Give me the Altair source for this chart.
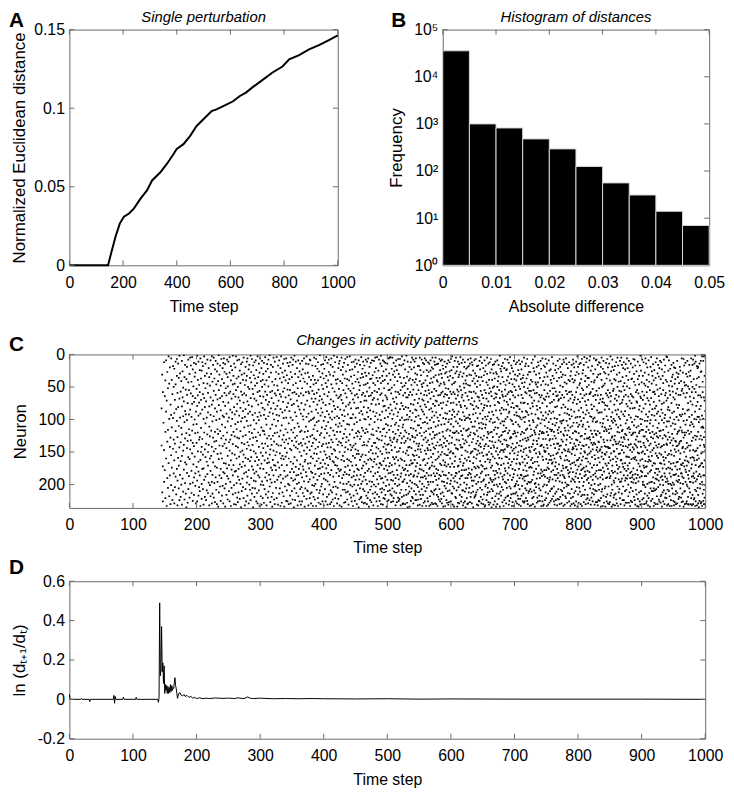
import altair as alt
import pandas as pd

FONT = "Liberation Sans"
FRAME = "#6a6a6a"
LFS = 16   # tick labels
XTFS = 16  # x titles
YTFS = 17  # y titles

# ---------------- Panel A: single perturbation ----------------
a_time = [0, 144, 154, 172, 188, 203, 222, 240, 265, 289, 308, 339, 363, 388, 400, 425, 450, 474,
          505, 530, 548, 585, 610, 634, 659, 683, 720, 757, 794, 819, 856, 893, 930, 967, 1000]
a_dist = [0, 0, 0.0067, 0.0183, 0.0267, 0.0309, 0.033, 0.0361, 0.0424, 0.0477, 0.054, 0.0592,
          0.0645, 0.0708, 0.074, 0.0771, 0.0824, 0.0887, 0.0939, 0.0981, 0.0992, 0.1023, 0.1044,
          0.1076, 0.1101, 0.1134, 0.118, 0.1227, 0.1265, 0.1311, 0.1338, 0.1374, 0.1401, 0.1433, 0.1464]

# ---------------- Panel B: histogram of distances ----------------
b_lo = [0, 0.005, 0.01, 0.015, 0.02, 0.025, 0.03, 0.035, 0.04, 0.045]
b_hi = [0.005, 0.01, 0.015, 0.02, 0.025, 0.03, 0.035, 0.04, 0.045, 0.05]
b_freq = [35500, 1000, 820, 480, 295, 125, 56, 31, 14, 7]

# ---------------- Panel C: raster of changed neurons ----------------
raster_start = 145
raster = (
    "83 140,31 212,172 58 226,105,196 12 147,64 178,119 221 40,9 160 88,233 71,134 27 190,52 205 116,167 3,218 99 45,142 186 20,77 230 128,6 155 93 201,112 39 174,224 61,145 18 98 209,183 50 131,"
    "22 163 90 229,137 70 204,11 118 188 46,215 84 150,33 176 102 7,127 59 232 194,159 14 81,206 110 36 171,68 143 224 2,97 185 29,219 57 135 164,41 200 113,80 10 156 231 123,191 66 26,148 211 95 51,1 177 139 72,223 104 35,87 166 198 16 129,54 214 92,169 38 121 235,"
    "19 101 182 62 144,228 75 133,43 158 8 207,115 187 55 92,161 30 220 124,85 5 199 146,132 60 17,179 96 42 213,4 152 117 76,197 23 136 64 225,108 169 49,73 189 13 216 141,157 34 100,202 121 67 183 28,15 229 88,136 53 173 107,226 2 79 194,63 149 120 39,180 11 217 94 165,47 131 204 74,"
    "127 24 186 58 210,91 162 6 233,150 37 113 70,199 142 25 222,12 176 85 130,61 207 18 154,175 99 44 231,3 120 193 67,146 33 219 81,106 188 14 158 52,224 72 137,29 165 97 209,184 8 123 45,59 213 150 89 171,139 21 197,80 232 111 35,160 48 201 126,9 93 179 66 218,117 156 30,196 77 142 3 229,"
    "42 185 103 214,166 16 128 71,220 56 149 95 5,134 198 37,83 172 23 227 119,10 145 62 189,208 101 46 133,26 174 88 230,153 69 14 196 115,234 41 122,78 161 212 1 55,186 31 140 99,118 203 67 17,48 152 225 86 176,190 7 129,64 217 108 38 160,141 21 94 202,13 181 73 229 125,96 44 167 6,206 137 59 183 27,"
    "112 234 79 15,168 52 199 131,30 91 144 216 63,187 8 120 175,223 49 103 156 35,74 191 11,135 60 210 97 170,4 148 28 226,196 85 131 57,40 163 110 233 18,177 68 205 124,99 24 152 89,215 138 46 186 2,61 119 170 33,230 81 14 201,154 126 45 92 180,20 213 65 107,141 179 3 231 55,87 160 37 198 115,9 220 76 128,"
    "188 50 143 104 227,34 176 66 212,157 8 94 129 193,222 71 25 169,118 199 44 150 82,15 235 103 57,173 136 31 210,62 191 12 148 98,204 87 126 39 165,5 154 221 74,138 29 183 112 60,232 96 47 171,19 124 207 84 159,181 40 63 226,145 11 102 197 33,72 217 135 188 6,110 50 161 91,23 229 78 140 178,200 53 119 16,88 164 36 208 130,"
    "147 2 224 67 109,190 43 158 27,80 121 214 7 172,53 205 93 139,235 17 177 61 128,101 149 32 194,12 68 219 115 183,164 37 90 206 48,127 195 9 152,71 226 106 24 180,158 44 213 133,3 96 170 58 229,120 186 35 77,209 14 142 101 162,56 233 89 189 28,175 124 6 64,94 218 151 41 200,21 168 112 75 231,137 50 195 10,82 156 221 117 39,"
    "201 65 30 144 176,118 13 228 93,46 163 207 85 123,189 4 137 57,70 215 151 26 99,232 108 182 40,15 129 194 62 167,160 77 22 220 141,95 211 49 8,185 125 35 166 73,1 203 89 154,146 58 227 114 192,28 174 83 16 130,219 67 139 197,42 108 178 234 56,162 19 91 213 125,75 186 5 148,134 223 47 170 100,11 60 196 121 230,171 84 38 155,"
    "205 27 110 178 63,93 150 4 221 138,48 193 79 120,17 166 231 55 102,140 71 188 30,214 9 126 94 174,61 152 37 206,185 117 21 233 84,3 140 65 197 160,109 228 43 170,156 28 89 212 131,73 191 14 57,218 124 161 98 35,7 179 52 135 234,144 86 203 25,66 115 188 40 157,225 6 131 97,32 170 209 81 151,120 13 186 54 226,199 75 44 137,"
    "18 160 106 230 63,129 201 38 87,181 55 12 217 145,97 165 229 69 27,147 5 190 116,35 210 78 133 176,223 59 101 16,168 120 194 47 8,76 235 140 181,2 113 58 206 158,192 30 89 128 224,44 173 143 11,213 95 61 186 134,125 21 199 71 163,52 232 106 145,185 9 80 218 35,138 64 176 111 197,26 150 226 85,207 119 41 169 14,91 183 60 231 136,"
    "156 31 204 75 117,10 189 140 52 226,172 95 23 213,63 130 177 37 100,218 6 148 85 195,119 165 42 234,29 77 206 137 162,181 14 58 111,96 222 153 3 187,143 45 71 209 127,210 118 28 168,57 196 91 232 15,134 35 175 103 60,221 80 147 8 192,9 167 126 214 50,180 101 39 157 229,68 141 212 88,124 17 182 56 201,233 99 160 33 136,46 115 189 73 219,"
    "152 5 97 202 129 61,39 223 171 109,199 68 18 145 184,85 131 233 44 7,164 208 104 59 153,22 118 193 77,142 40 221 176 90 12,102 160 54 228,213 26 135 187 71,1 175 124 64 209,167 94 35 150 230,121 203 83 16 184,47 141 199 112 69,226 173 29 89,74 15 138 215 162 53,191 102 37 232,128 61 183 149 22,9 207 96 168 115,154 44 226 78 193,110 33 175 137 4,"
    "219 87 159 50 121,64 195 13 231 143,182 104 40 170,27 136 215 92 58 8,157 76 200 125,97 230 31 185 161,143 16 69 209 113,6 178 131 46 227,212 88 153 100,52 164 223 19 135,188 117 72 33 204,79 146 233 166 2,124 57 196 97 27,170 12 148 221 84,39 203 108 158,215 63 130 182 45,95 4 171 229 119,160 81 38 205 139,21 222 111 67 176,134 187 53 14 98,"
    "232 65 150 179 10 106,41 119 197 85,177 24 217 136 62,110 234 70 162 5,140 190 44 93,19 129 208 156 75 31,199 55 102 185,86 13 164 228 122,150 208 37 95 181,60 143 227 7 115 173,212 80 26 135,127 184 48 199 66,4 161 223 107 38,171 92 16 211 146,53 132 196 77 231,185 108 40 163,24 215 74 123 178 3,139 56 201 98,220 165 34 83 147,98 12 189 226 60,"
    "143 203 45 116 171 23,69 233 92 156,187 11 140 217 52,32 107 180 74 200 128,159 225 63 19,97 146 8 193 137 42,209 83 170 121,14 230 61 104 186 153,176 38 126 214,118 201 82 27 148 66,235 153 43 178 9,90 120 192 55 223,48 162 16 130 206 101,185 73 221 36,126 4 157 87 199 219,62 113 175 30 227,154 195 22 140 92,207 59 11 171 117 35,81 229 135 47 188,165 99 17 210 139 71,"
    "28 182 121 64 228,193 8 155 100 46,115 217 71 33 168,57 140 199 89 11 230,221 119 179 44,6 162 82 212 134 96,176 29 234 64 150,130 51 195 108 19,86 208 160 38 224,147 13 180 99 63,37 123 227 162 76 203,196 59 141 9,70 173 214 115 32 152,232 88 44 187 124,10 136 67 200 165,161 221 104 27 56,47 183 136 212 95 5,203 77 152 21,118 226 36 169 90 143,58 4 192 129 215,"
    "181 100 41 157 233 69,25 145 199 113,219 76 8 174 131 53,93 167 225 36 187,149 14 62 119 207 168,2 191 101 230 44,132 60 212 170 18,206 88 153 33 125 190,41 231 115 71 9,164 197 26 142 80 221,114 52 176 11 208,79 222 137 98 39 160,188 13 63 126 216,146 202 86 23 171 107,33 120 234 151 66,226 69 178 14 139 193,96 159 45 210 109,6 138 183 55 224 82,172 29 116 200 151,54 209 91 167 5 128,"
    "215 132 39 77 182 4,140 193 60 110 227,22 170 217 86 147 51,180 99 5 135 206,68 226 158 31 119 194,130 13 185 92 221,47 161 73 211 128 26,199 108 143 35 168,83 232 18 122 190 57,158 66 213 105 9,24 134 178 76 227 150,202 41 95 185 131,116 7 163 220 58 89,225 149 30 110 192,61 200 125 16 171 222,144 84 35 213 101 7,188 55 232 121 160,17 136 208 75 44 183,162 97 219 3 129,79 230 50 174 112 196,"
    "108 15 150 195 63 229,217 84 126 36 178,48 192 101 164 9 136,176 59 230 117 23,133 208 81 152 44 185,2 120 170 66 216 100,228 93 34 148 198,66 179 11 129 235 53,155 100 214 27 82 143,40 186 122 62 203,211 142 19 170 96 234,87 37 194 131 58,163 225 76 12 113 184,23 144 206 101 47 168,197 62 125 219 5,127 90 167 39 221 154,54 229 114 8 188 77,186 134 20 156 210,11 70 199 103 162 43,224 148 85 29 179 128,"
    "96 172 38 215 117 6,155 61 201 137 86 224,31 124 188 47 167,204 75 18 146 232 109,141 223 94 55 183,18 158 109 211 68 137,176 41 231 121 5 195,80 146 24 170 99 216,222 113 60 189 32 150,125 8 177 85 207 46,50 199 140 69 233,189 105 13 163 216 88,71 228 131 44 179 27,161 92 203 15 120 62,6 187 148 77 226 104,210 40 128 170 56,118 9 233 153 81 191,182 135 63 24 205 97,33 221 106 167 48 144,147 73 196 12 132 226,"
    "200 55 114 186 27 160,60 233 139 85 176 14,174 101 44 218 123,25 147 196 68 9 231,113 210 83 158 37 186,228 58 130 20 171 97,88 166 212 43 137 5,153 22 119 196 76 230,35 183 64 143 104 215,209 128 11 172 53 94,124 229 79 187 16 145,5 162 111 207 71 32,193 89 140 230 56 176,72 15 216 123 183 40,160 135 42 201 97 233,14 178 63 109 219 150,223 102 31 157 191 78,121 48 185 7 140 207,62 226 93 168 24 131,187 154 10 214 75 45,"
    "139 30 170 108 222 59,8 195 83 150 36 229,180 119 57 212 143 17,98 234 22 163 74 126,218 65 185 136 43 196,46 153 107 11 202 170,166 90 233 29 129 61,206 141 52 186 99 19,27 117 172 78 224 155,133 14 198 91 62 228,191 72 155 35 115 210,53 169 231 104 146 9,227 100 40 182 67 137,12 151 209 125 26 87,173 57 117 199 160 33,107 226 149 7 194 75,61 185 24 136 213 99,214 128 93 168 46 3,36 203 152 85 120 231,152 19 74 190 111 58,"
    "88 234 173 44 121 206,195 10 139 61 96 164,42 120 219 157 29 187,221 68 103 182 5 144,131 183 26 209 77 118,19 92 234 145 54 197,172 146 63 11 228 106,57 204 121 88 35 171,229 31 180 132 73 15,110 161 49 216 191 99,4 139 78 200 165 27,187 118 226 55 143 81,66 13 155 101 219 178,143 209 34 186 62 124,209 89 130 8 171 232,29 167 71 228 114 45,178 51 197 137 19 95,101 226 12 160 79 211,235 132 59 190 40 148,45 98 177 22 206 117,"
    "163 200 83 135 33 221,20 116 190 64 150 230,185 47 229 126 97 8,114 158 18 212 175 70,57 140 205 31 93 182,227 99 164 48 124 14,6 184 120 76 219 152,150 32 213 104 58 189,194 135 67 177 12 229,78 16 149 202 111 41,211 167 25 92 235 130,37 121 194 57 158 84,173 220 9 145 72 111,123 45 188 103 218 29,216 146 60 175 7 90,33 199 137 80 160 212,154 18 117 231 50 185,98 172 208 41 133 65,232 82 126 17 196 148,66 140 225 106 35 174,"
    "189 71 10 152 113 226,47 164 205 91 23 137,219 128 56 183 142 4,105 35 170 229 76 196,13 208 114 151 62 180,172 86 41 223 131 99,230 156 21 107 194 67,82 192 145 32 215 125,141 9 176 78 234 55,26 113 232 165 96 203,200 59 138 17 186 108,68 175 100 224 43 154,154 216 30 128 79 5,95 161 47 205 119 212,227 122 72 185 14 141,39 197 150 60 231 89,166 12 103 211 133 52,120 228 79 162 28 190,7 144 193 99 57 174,207 64 119 235 153 23,"
    "134 171 39 88 221 196,51 210 157 16 105 127,193 93 29 179 140 231,15 143 201 68 116 49,226 185 104 37 160 78,112 60 218 135 11 191,179 27 86 234 149 66,61 122 167 200 30 214,144 230 50 97 182 9,203 113 73 154 41 169,34 189 132 16 222 100,159 75 214 55 127 176,86 2 150 199 67 234,211 134 45 106 183 22,125 170 91 26 217 147,18 204 124 82 160 57,188 103 227 62 138 35,65 147 13 192 119 208,233 85 168 42 109 150,103 21 185 131 224 71,"
    "175 54 196 146 7 118,47 220 99 179 64 157,198 132 24 113 229 85,23 158 73 205 139 40,142 8 183 96 218 61,217 121 34 167 77 193,90 231 140 58 13 174,161 44 203 117 88 225,4 186 129 29 152 69,206 100 56 221 170 127,128 215 17 143 81 38,58 165 233 102 193 21,227 75 137 46 176 148,107 26 189 214 63 122,184 145 10 82 233 161,38 203 93 152 118 50,214 121 66 178 31 202,143 55 199 104 15 226,79 168 126 40 212 89,195 12 161 229 94 136,"
    "120 33 217 80 155 186,222 150 63 108 24 201,9 95 176 140 231 49,167 207 111 30 84 190,53 133 222 169 15 97,233 74 148 38 185 123,100 186 23 217 62 141,157 44 119 202 88 11,191 131 67 166 226 36,32 214 97 150 75 178,146 5 188 121 50 228,74 161 226 43 104 194,206 96 129 18 171 58,14 144 187 221 87 116,179 60 37 133 209 155,89 225 114 167 7 199,230 128 52 76 186 31,131 18 196 158 93 213,56 174 143 210 27 102,197 109 233 63 148 46,"
    "27 150 83 207 126 173,162 232 39 115 56 196,211 91 13 174 142 66,75 193 124 221 42 159,138 8 167 101 230 80,21 219 55 185 132 104,180 117 147 26 209 71,120 60 234 165 3 199,198 145 92 43 213 123,46 176 204 112 31 152,228 19 133 79 191 59,109 165 220 50 138 85,158 43 98 226 12 183,72 200 129 171 99 17,217 123 62 29 150 206,36 153 190 118 225 82,183 106 10 209 66 141,89 233 140 47 177 22,139 63 187 100 218 121,6 180 119 75 226 157,"
    "203 130 41 162 94 233,121 17 185 231 68 143,55 200 101 148 35 178,224 150 70 19 188 110,149 89 212 130 46 7,98 178 28 221 161 65,14 139 233 80 119 201,174 60 113 190 34 144,231 167 47 124 214 92,65 104 196 153 9 176,193 25 162 87 228 132,130 210 75 115 56 189,39 156 225 140 23 99,207 90 180 44 162 118,116 168 4 206 73 222,166 33 130 192 107 52,88 218 155 61 178 14,226 119 70 203 138 37,52 185 231 98 160 125,144 24 109 172 214 81,"
    "17 194 129 57 224 166,185 64 153 105 28 211,99 232 41 176 137 80,222 116 190 10 151 63,137 22 71 207 121 182,69 169 223 112 36 146,195 141 7 93 230 58,48 103 157 186 19 219,160 208 119 67 140 27,106 35 229 179 82 131,210 151 62 15 197 102,31 185 134 216 50 171,175 77 233 123 101 8,125 12 188 146 66 205,231 113 43 90 163 190,81 197 148 32 218 117,156 56 174 221 6 139,15 131 203 102 173 45,200 91 124 61 228 162,109 178 21 149 84 213,"
    "183 39 201 117 146 71,58 226 93 164 12 188,127 150 181 41 214 99,33 112 233 68 169 136,221 175 26 195 85 57,95 16 130 207 153 230,167 191 62 110 38 146,8 143 219 181 74 121,145 105 43 229 193 14,213 70 166 20 137 88,66 118 196 155 232 40,188 32 141 97 210 170,119 226 58 183 11 131,27 163 204 76 146 105,234 96 132 51 177 3,162 19 215 111 69 190,86 139 172 30 228 121,205 47 108 159 15 196,135 211 73 184 96 44,13 169 230 126 61 152,"
    "178 102 38 218 145 82,52 190 125 7 233 163,216 140 67 176 29 111,108 24 157 202 89 55,174 227 98 141 16 196,4 130 187 63 216 149,151 72 41 208 122 180,230 185 115 33 92 160,61 12 172 139 223 78,193 160 86 50 129 6,36 216 179 104 154 221,165 129 20 229 70 190,90 47 143 198 111 36,224 181 61 127 9 152,131 3 206 95 168 60,58 149 231 117 188 25,201 96 136 42 77 220,18 174 122 213 158 84,146 226 53 103 193 139,99 30 185 64 127 207,"
    "215 136 80 170 43 6,40 117 199 231 97 155,183 62 161 23 138 209,122 188 9 104 227 70,8 210 147 56 179 124,170 103 227 35 143 86,63 150 191 118 16 232,224 31 90 159 201 134,135 178 52 208 75 12,89 13 121 166 225 148,199 146 69 30 189 105,19 221 178 127 62 234,157 89 142 5 211 39,207 50 111 185 151 73,106 174 233 68 22 192,48 131 161 217 99 10,228 74 27 135 180 118,141 206 112 153 45 85,29 154 203 78 234 168,190 115 60 13 142 219,"
    "118 226 171 95 37 150,63 7 189 132 215 79,176 142 55 229 101 20,31 203 115 167 66 144,230 84 158 14 183 121,144 190 40 110 227 59,72 163 217 132 3 187,213 26 96 152 64 114,102 179 200 45 128 234,8 126 171 89 208 19,161 231 56 139 105 182,53 99 194 24 149 220,197 149 77 216 38 131,125 18 180 68 232 102,40 214 134 190 86 157,223 108 62 12 165 138,92 170 145 229 31 71,183 50 119 203 160 5,17 233 85 137 176 112,153 65 212 42 96 192,"
    "207 134 28 173 120 56,76 196 152 10 221 99,139 41 230 109 181 163,5 162 88 195 57 128,191 118 16 147 214 74,116 224 70 35 168 135,49 173 141 203 92 21,224 12 186 127 65 151,130 95 55 176 232 44,167 210 122 23 87 194,62 141 190 106 15 228,208 33 76 157 124 179,101 157 228 49 191 6,21 186 114 171 80 143,176 65 200 131 39 218,139 228 10 93 158 112,52 120 167 212 71 27,233 83 147 182 115 190,97 14 205 61 138 225,161 196 38 124 180 75,"
    "37 104 227 150 189 64,185 143 20 83 210 122,120 66 175 197 7 159,219 192 109 42 146 30,8 138 82 161 224 100,158 47 231 120 184 17,95 208 131 58 140 198,190 26 163 215 72 112,55 126 74 178 233 143,222 151 96 38 185 11,110 234 195 60 134 168,33 85 152 212 121 46,172 17 118 189 226 79,231 134 65 99 163 2,67 179 210 25 142 107,151 43 187 116 230 88,8 161 100 223 57 181,200 116 33 149 196 70,126 221 171 83 12 136,45 63 140 201 174 230,"
    "187 102 153 28 214 126,143 6 204 76 164 48,14 173 119 229 92 187,226 130 58 172 39 111,102 199 147 20 217 67,165 50 183 133 96 232,31 116 221 157 71 9,213 162 88 197 140 42,77 234 106 55 180 121,150 19 137 206 101 164,4 178 225 67 127 196,196 93 45 156 210 26,119 147 222 84 33 171,58 210 129 189 110 15,233 73 167 40 144 206,94 24 198 123 228 57,168 135 61 209 83 182,36 191 101 152 230 12,207 121 79 176 47 140,126 156 6 218 91 192,"
    "54 230 143 113 185 29,176 88 16 204 159 128,223 138 64 106 194 34,118 21 180 226 71 152,10 167 125 200 52 95,189 143 38 218 117 228,85 216 154 12 168 61,141 76 234 101 187 23,33 193 129 175 212 90,226 158 55 116 44 201,105 8 209 139 74 163,169 124 183 27 230 98,63 220 93 150 17 188,214 39 159 196 126 59,137 176 3 71 221 111,4 103 191 139 232 42,195 67 131 208 85 155,81 230 174 25 120 199,153 48 210 103 165 9,233 127 86 183 56 218,"
    "22 175 199 136 62 97,168 110 41 224 148 188,132 233 75 16 201 154,206 49 122 177 90 35,57 197 140 31 214 106,185 129 66 225 167 13,100 20 156 88 232 200,227 146 185 45 115 69,38 172 107 215 133 21,150 210 60 134 184 230,77 141 28 194 96 166,213 229 122 53 10 177,119 165 196 82 140 35,30 101 62 222 187 148,193 137 219 117 44 78,134 19 176 233 93 161,62 206 152 112 25 198,220 95 41 169 133 183,170 183 117 6 227 56,92 53 214 144 188 120,"
    "142 226 28 167 84 199,7 128 190 234 102 60,211 172 150 43 120 17,124 48 210 163 91 230,177 13 66 145 196 108,47 229 181 120 30 157,200 101 226 59 171 136,164 86 10 203 143 34,230 185 49 117 219 75,85 140 231 166 27 191,16 206 122 53 179 96,148 65 196 212 33 109,196 159 25 140 230 72,104 42 175 221 119 6,232 169 93 133 58 188,50 216 158 77 107 16,187 128 230 8 197 147,67 183 38 111 223 159,221 99 163 190 14 53,125 2 208 149 88 233,"
    "11 195 58 170 131 226,180 148 100 47 210 79,37 232 162 126 192 18,155 73 205 21 144 96,216 19 119 187 229 63,96 160 235 35 104 173,130 84 50 225 184 14,63 206 171 140 100 199,229 125 27 188 79 10,26 152 227 112 66 168,167 3 196 94 233 131,200 111 214 58 150 42,113 173 10 225 99 186,3 66 139 208 127 230,186 142 220 33 163 71,148 87 201 230 119 2"
)

# ---------------- Panel D: log ratio of successive distances ----------------
d_time = [0, 1, 2, 18, 19, 20, 31, 32, 33, 69, 70, 71, 72, 73, 84, 85, 86, 104, 105, 106,
          139, 140, 141, 142, 143, 144, 145, 146, 147, 148, 149, 150, 151, 152, 153, 154, 155, 156,
          157, 158, 159, 160, 161, 162, 163, 164, 165, 166, 167, 168, 169, 170, 172, 174, 176, 178,
          180, 182, 185, 188, 191, 194, 197, 200, 205, 210, 215, 220, 230, 240, 250, 260, 265, 270,
          275, 280, 285, 290, 300, 320, 340, 360, 380, 400, 450, 500, 550, 600, 700, 800, 900, 1000]
d_val = [0.025, 0, 0, 0, 0.005, 0, 0, -0.012, 0, 0, 0.02, -0.02, 0.015, 0, 0, 0.012, 0, 0, 0.01, 0,
         0, -0.015, 0.01, 0.49, 0.12, 0.15, 0.37, 0.14, 0.185, 0.08, 0.17, 0.03, 0.075, 0.045, 0.07,
         0.03, 0.065, 0.03, 0.06, 0.035, 0.075, 0.04, 0.07, 0.045, 0.06, 0.055, 0.085, 0.11, 0.07,
         0.055, 0.03, 0.005, 0.03, 0.034, 0.02, 0.017, 0.025, 0.015, 0.02, 0.01, 0.015, 0.006, 0.01,
         0.004, 0.008, 0.003, 0.006, 0.004, 0.007, 0.005, 0.006, 0.004, 0.008, 0.005, 0.004, 0.012,
         0.005, 0.004, 0.006, 0.003, 0.004, 0.003, 0.004, 0.003, 0.002, 0.003, 0.001, 0.002, 0.001,
         0.001, 0.001, 0]

# tick values (shared by axes and inward frame ticks)
a_xticks = [0, 200, 400, 600, 800, 1000]
a_yticks = [0, 0.05, 0.1, 0.15]
b_xticks = [0, 0.01, 0.02, 0.03, 0.04, 0.05]
b_yticks = [1, 10, 100, 1000, 10000, 100000]
t_ticks = [0, 100, 200, 300, 400, 500, 600, 700, 800, 900, 1000]
c_yticks = [0, 50, 100, 150, 200]
d_yticks = [-0.2, 0, 0.2, 0.4, 0.6]

# ---------------- helpers ----------------
ONE = alt.Data(values=[{}])


def letter(s, dx, dy):
    return alt.Chart(ONE).mark_text(text=s, font=FONT, fontSize=21, fontWeight="bold",
                                    align="left", baseline="top", color="black").encode(
        x=alt.value(dx), y=alt.value(dy))


def head(s, w, dy):
    return alt.Chart(ONE).mark_text(text=s, font=FONT, fontSize=15, fontStyle="italic",
                                    align="center", baseline="top", color="black").encode(
        x=alt.value(w / 2), y=alt.value(dy))


def inward_ticks(xv, yv, xs, ys, w, h, ln=5):
    xd = pd.DataFrame({"v": xv})
    yd = pd.DataFrame({"v": yv})
    out = []
    bx = alt.Chart(xd).mark_rule(color=FRAME, strokeWidth=1)
    out.append(bx.encode(x=alt.X("v:Q", scale=xs, axis=None), y=alt.value(h), y2=alt.value(h - ln)))
    out.append(bx.encode(x=alt.X("v:Q", scale=xs, axis=None), y=alt.value(0), y2=alt.value(ln)))
    by = alt.Chart(yd).mark_rule(color=FRAME, strokeWidth=1)
    out.append(by.encode(y=alt.Y("v:Q", scale=ys, axis=None), x=alt.value(0), x2=alt.value(ln)))
    out.append(by.encode(y=alt.Y("v:Q", scale=ys, axis=None), x=alt.value(w), x2=alt.value(w - ln)))
    return out


AXCOMMON = dict(labelFont=FONT, labelFontSize=LFS, labelColor="black", titleFont=FONT,
                titleFontWeight="normal", titleColor="black",
                domain=False, ticks=False, tickSize=0, grid=False)


def xaxis(vals, title, fmt, tpad=8):
    return alt.Axis(values=vals, title=title, format=fmt, labelPadding=9, titlePadding=tpad,
                    labelFlush=False, titleFontSize=XTFS, **AXCOMMON)


def yaxis(vals, title, fmt, tpad=6, expr=None):
    kw = dict(values=vals, title=title, format=fmt, labelPadding=5, titlePadding=tpad,
              titleFontSize=YTFS, **AXCOMMON)
    if expr:
        kw["labelExpr"] = expr
    return alt.Axis(**kw)


def panel(layers, w, h):
    return alt.layer(*layers).resolve_axis(x="independent", y="independent").properties(
        width=w, height=h)


MINUS = "replace(datum.label, '\u2212', '-')"

# ---------------- Panel A ----------------
AW, AH = 271, 238
a_xs = alt.Scale(domain=[0, 1000], nice=False)
a_ys = alt.Scale(domain=[0, 0.15], nice=False)
a_df = pd.DataFrame({"t": a_time, "d": a_dist})
a_line = alt.Chart(a_df).mark_line(color="black", strokeWidth=2).encode(
    x=alt.X("t:Q", scale=a_xs, axis=xaxis(a_xticks, "Time step", "d", 9)),
    y=alt.Y("d:Q", scale=a_ys, axis=yaxis(a_yticks, "Normalized Euclidean distance", ".2~f", 5)))
panel_a = panel([a_line, *inward_ticks(a_xticks, a_yticks, a_xs, a_ys, AW, AH),
                 letter("A", -61, -20), head("Single perturbation", AW, -20)], AW, AH)

# ---------------- Panel B ----------------
BW, BH = 269, 238
b_xs = alt.Scale(domain=[0, 0.05], nice=False)
b_ys = alt.Scale(type="log", domain=[1, 100000], nice=False)
b_df = pd.DataFrame({"lo": b_lo, "hi": b_hi, "f": b_freq})
sup = "'10' + ['\u2070','\u00b9','\u00b2','\u00b3','\u2074','\u2075'][round(log(datum.value)/LN10)]"
b_bars = alt.Chart(b_df).mark_rect(color="black", stroke="#d8d8d8", strokeWidth=1).encode(
    x=alt.X("lo:Q", scale=b_xs, axis=xaxis(b_xticks, "Absolute difference", ".2~f", 9)),
    x2="hi:Q",
    y=alt.Y("f:Q", scale=b_ys, axis=yaxis(b_yticks, "Frequency", "d", 8, sup)),
    y2=alt.datum(1))
panel_b = panel([*inward_ticks(b_xticks, b_yticks, b_xs, b_ys, BW, BH), b_bars,
                 letter("B", -52, -20), head("Histogram of distances", BW, -20)], BW, BH)

# ---------------- Panel C ----------------
CW, CH = 642, 155
c_xs = alt.Scale(domain=[0, 1000], nice=False)
c_ys = alt.Scale(domain=[0, 236], nice=False, reverse=True)
rows = []
for i, grp in enumerate(raster.split(",")):
    for n in grp.split():
        rows.append({"t": raster_start + i, "n": int(n)})
c_df = pd.DataFrame(rows)
c_dots = alt.Chart(c_df).mark_square(color="black", size=3, opacity=1, clip=True).encode(
    x=alt.X("t:Q", scale=c_xs, axis=xaxis(t_ticks, "Time step", "d", 7)),
    y=alt.Y("n:Q", scale=c_ys, axis=yaxis(c_yticks, "Neuron", "d", 9)))
panel_c = panel([c_dots, *inward_ticks(t_ticks, c_yticks, c_xs, c_ys, CW, CH),
                 letter("C", -61, -20), head("Changes in activity patterns", CW, -22)], CW, CH)

# ---------------- Panel D ----------------
DW, DH = 642, 159
d_xs = alt.Scale(domain=[0, 1000], nice=False)
d_ys = alt.Scale(domain=[-0.2, 0.6], nice=False)
d_df = pd.DataFrame({"t": d_time, "v": d_val})
d_line = alt.Chart(d_df).mark_line(color="black", strokeWidth=1).encode(
    x=alt.X("t:Q", scale=d_xs, axis=xaxis(t_ticks, "Time step", "d", 8)),
    y=alt.Y("v:Q", scale=d_ys, axis=yaxis(d_yticks, "ln (d\u209c\u208a\u2081/d\u209c)", ".1~f", 9,
                                          MINUS)))
panel_d = panel([d_line, *inward_ticks(t_ticks, d_yticks, d_xs, d_ys, DW, DH),
                 letter("D", -61, -24)], DW, DH)

top_row = alt.hconcat(panel_a, panel_b, spacing=30)
bottom = alt.vconcat(panel_c, panel_d, spacing=0)
chart = alt.vconcat(top_row, bottom, spacing=16).properties(
    padding={"top": -3, "left": 0, "right": 0, "bottom": 0},
    background="white").configure_view(stroke=FRAME, strokeWidth=1)

chart.save("out.html", embed_options={"renderer": "svg", "actions": False})
